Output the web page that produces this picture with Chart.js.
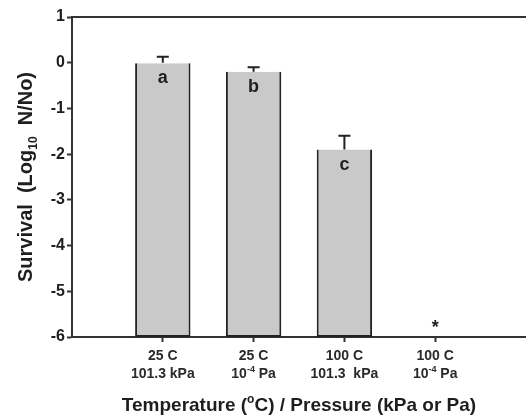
<!DOCTYPE html>
<html><head><meta charset="utf-8">
<script src="https://cdn.jsdelivr.net/npm/chart.js@4/dist/chart.umd.min.js"></script>
<style>html,body{margin:0;padding:0;background:#fff;}#wrap{width:526px;height:418px;position:relative;}</style>
</head><body><div id="wrap"><canvas id="c"></canvas></div>
<script>
const tempLabels = ['25 C', '25 C', '100 C', '100 C'];
const pressureLabels = ['101.3 kPa', '10^{-4} Pa', '101.3  kPa', '10^{-4} Pa'];
const survival = [0, -0.2, -1.9, null];
const sem = [0.13, 0.1, 0.3, null];
const groupLetters = ['a', 'b', 'c', '*'];
const yTicks = [1, 0, -1, -2, -3, -4, -5, -6];
const yMin = -6, yMax = 1;
const yTitle = 'Survival  (Log_{10}  N/No)';
const xTitle = 'Temperature (^{o}C) / Pressure (kPa or Pa)';

const FONT = "'Liberation Sans', Arial, sans-serif";
const INK = '#1e1e1e';

function parseRich(s) {
  const parts = [];
  const re = /(\^|_)\{([^}]*)\}/g;
  let last = 0, m;
  while ((m = re.exec(s)) !== null) {
    if (m.index > last) parts.push({ t: s.slice(last, m.index), k: 'n' });
    parts.push({ t: m[2], k: m[1] === '^' ? 'sup' : 'sub' });
    last = re.lastIndex;
  }
  if (last < s.length) parts.push({ t: s.slice(last), k: 'n' });
  return parts;
}
function drawRich(ctx, s, x, y, size, color) {
  const parts = parseRich(s);
  const small = Math.round(size * 0.62);
  const fontN = 'bold ' + size + 'px ' + FONT;
  const fontS = 'bold ' + small + 'px ' + FONT;
  let total = 0;
  parts.forEach(p => { ctx.font = p.k === 'n' ? fontN : fontS; p.w = ctx.measureText(p.t).width; total += p.w; });
  let cx = x - total / 2;
  ctx.fillStyle = color;
  ctx.textAlign = 'left';
  ctx.textBaseline = 'alphabetic';
  const base = y + size * 0.36;
  parts.forEach(p => {
    ctx.font = p.k === 'n' ? fontN : fontS;
    let dy = 0;
    if (p.k === 'sup') dy = -size * 0.42;
    if (p.k === 'sub') dy = size * 0.22;
    ctx.fillText(p.t, cx, base + dy);
    cx += p.w;
  });
}

const catLabels = ['', ...tempLabels.map((t, i) => t + ' ' + pressureLabels[i]), ''];
const barData = [null, ...survival.map(v => v === null ? null : [yMin, v]), null];

const overlay = {
  id: 'overlay',
  afterDatasetsDraw(chart) {
    const { ctx, chartArea: a, scales: { x, y } } = chart;
    ctx.save();
    ctx.strokeStyle = '#333';
    ctx.lineWidth = 2;
    ctx.beginPath();
    ctx.moveTo(a.left - 1, a.top);
    ctx.lineTo(a.right, a.top);
    ctx.stroke();
    survival.forEach((v, i) => {
      if (v === null) return;
      const px = x.getPixelForValue(i + 1);
      const yTop = y.getPixelForValue(v);
      const yErr = y.getPixelForValue(v + sem[i]);
      ctx.strokeStyle = '#222';
      ctx.lineWidth = 2;
      ctx.beginPath();
      ctx.moveTo(px, yTop);
      ctx.lineTo(px, yErr);
      ctx.moveTo(px - 6, yErr);
      ctx.lineTo(px + 6, yErr);
      ctx.stroke();
    });
    ctx.fillStyle = INK;
    ctx.textAlign = 'center';
    ctx.textBaseline = 'middle';
    ctx.font = 'bold 18px ' + FONT;
    survival.forEach((v, i) => {
      const px = x.getPixelForValue(i + 1);
      if (v === null) {
        ctx.fillText(groupLetters[i], px, y.getPixelForValue(yMin) - 9);
      } else {
        ctx.fillText(groupLetters[i], px, y.getPixelForValue(v) + 15);
      }
    });
    tempLabels.forEach((t, i) => {
      const px = x.getPixelForValue(i + 1);
      drawRich(ctx, t, px, 355, 14, '#2a2a2a');
      drawRich(ctx, pressureLabels[i], px, 373, 14, '#2a2a2a');
    });
    drawRich(ctx, xTitle, (a.left + a.right) / 2, 404, 19, INK);
    ctx.save();
    ctx.translate(25, (a.top + a.bottom) / 2);
    ctx.rotate(-Math.PI / 2);
    drawRich(ctx, yTitle, 0, 0, 20, INK);
    ctx.restore();
    ctx.restore();
  }
};

new Chart(document.getElementById('c'), {
  type: 'bar',
  data: {
    labels: catLabels,
    datasets: [{
      data: barData,
      backgroundColor: '#c9c9c9',
      borderColor: '#222',
      borderWidth: 2,
      barPercentage: 0.61,
      categoryPercentage: 1
    }]
  },
  options: {
    responsive: true,
    maintainAspectRatio: false,
    animation: false,
    devicePixelRatio: 1,
    layout: { padding: { top: 17, right: 0, left: 0, bottom: 0 } },
    plugins: { legend: { display: false }, tooltip: { enabled: false } },
    scales: {
      x: {
        offset: false,
        grid: {
          display: true,
          offset: false,
          drawOnChartArea: false,
          drawTicks: true,
          tickLength: 5,
          tickWidth: 2,
          tickColor: c => (c.index === 0 || c.index === catLabels.length - 1) ? 'rgba(0,0,0,0)' : '#333'
        },
        border: { display: true, color: '#333', width: 2 },
        ticks: { display: false, autoSkip: false },
        afterFit: s => { s.height = 81; }
      },
      y: {
        min: yMin,
        max: yMax,
        afterBuildTicks: s => { s.ticks = yTicks.map(v => ({ value: v })); },
        grid: {
          display: true,
          drawOnChartArea: false,
          drawTicks: true,
          tickLength: 5,
          tickWidth: 2,
          tickColor: '#333'
        },
        border: { display: true, color: '#333', width: 2 },
        ticks: {
          color: INK,
          padding: 2,
          font: { family: FONT, size: 16, weight: 'bold' },
          callback: v => String(v)
        },
        afterFit: s => { s.width = 72; }
      }
    }
  },
  plugins: [overlay]
});
</script>
</body></html>
